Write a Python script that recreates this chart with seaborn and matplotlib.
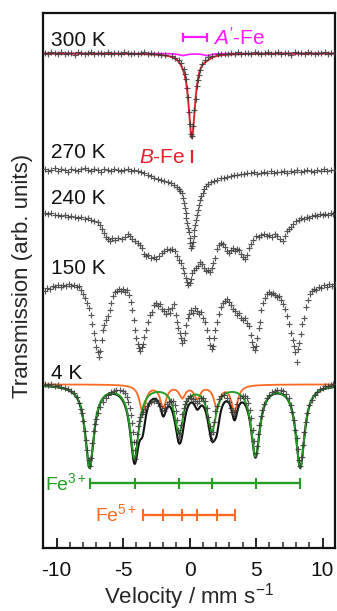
import numpy as np
import pandas as pd
import matplotlib
matplotlib.use("Agg")
import matplotlib.pyplot as plt
from matplotlib.ticker import MultipleLocator
import seaborn as sns

# ---------------- data ----------------
temps = ["300 K", "270 K", "240 K", "150 K", "4 K"]
xticks = [-10, -5, 0, 5, 10]
xticklabels = ["-10", "-5", "0", "5", "10"]

# absorption depth relative to each spectrum's baseline (arb. units, positive = dip)
v300 = [-10.9, -10.65, -10.4, -10.15, -9.9, -9.65, -9.4, -9.15, -8.9, -8.65, -8.4, -8.15,
        -7.9, -7.65, -7.4, -7.15, -6.9, -6.65, -6.4, -6.15, -5.9, -5.65, -5.4, -5.15,
        -4.9, -4.65, -4.4, -4.15, -3.9, -3.65, -3.4, -3.15, -2.9, -2.65, -2.4, -2.15,
        -1.83, -1.33, -1.08, -0.83, -0.63, -0.43, -0.35, -0.27, -0.19, -0.11, -0.03, 0.05,
        0.13, 0.21, 0.29, 0.37, 0.45, 0.53, 0.61, 0.69, 0.77, 0.97, 1.17, 1.42, 1.67, 2.17,
        2.4, 2.65, 2.9, 3.15, 3.4, 3.65, 3.9, 4.15, 4.4, 4.65, 4.9, 5.15, 5.4, 5.65, 5.9,
        6.15, 6.4, 6.65, 6.9, 7.15, 7.4, 7.65, 7.9, 8.15, 8.4, 8.65, 8.9, 9.15, 9.4, 9.65,
        9.9, 10.15, 10.4, 10.65, 10.85]
a300 = [-0.5, 1, -1, 0, 0.5, -1.5, 1, -0.5, 0, 1.5, -1, 0, 0.5, -0.5, -1, 1, 0, -0.5,
        0.5, -1, 1, 0, -0.5, 1, -1.5, 0, 0.5, -0.5, 1, 0, -1, 0.5, 0, 1, 0.5, 1.5,
        2, 3, 5, 7, 10, 16, 21, 26, 35, 44, 59, 71, 81, 83, 73, 57, 46, 33, 27, 22, 17,
        11, 7, 4, 3, 1,
        1, 0.5, 1, 0, 0.5, -1, 1, -0.5, 0, 0.5, -1, 0, 1, -0.5, -1, 0.5, 0, -1, 1, -0.5,
        0, 1.5, -1, 0, -0.5, 0.5, -1, 0, 1, -0.5, 0, -1, 0.5, 0, -0.5]

v270 = [-10.9, -10.65, -10.4, -10.15, -9.9, -9.65, -9.4, -9.15, -8.9, -8.65, -8.4, -8.15,
        -7.9, -7.65, -7.4, -7.15, -6.9, -6.65, -6.4, -6.15, -5.9, -5.65, -5.4, -5.15,
        -4.9, -4.65, -4.4, -4.15,
        -3.9, -3.65, -3.4, -3.15, -2.9, -2.65, -2.4, -2.15, -1.9, -1.65, -1.4, -1.15,
        -0.95, -0.8, -0.7, -0.6, -0.52, -0.45, -0.38, -0.3, -0.24, -0.18, -0.12, -0.06,
        0.0, 0.06, 0.12, 0.18, 0.24, 0.3, 0.37, 0.44, 0.5, 0.56, 0.62, 0.68, 0.75, 0.85,
        1.0, 1.12, 1.25, 1.4, 1.6, 1.85, 2.1, 2.35, 2.6, 2.85, 3.1, 3.35, 3.6, 3.85, 4.1,
        4.35, 4.6,
        4.85, 5.1, 5.35, 5.6, 5.85, 6.1, 6.35, 6.6, 6.85, 7.1, 7.35, 7.6, 7.85, 8.1, 8.35,
        8.6, 8.85, 9.1, 9.35, 9.6, 9.85, 10.1, 10.35, 10.6, 10.85]
a270 = [-1, 1, 0, -2, 1, -1, 0, 2, -1, 0, 1, -1, -2, 0, 1, -1, 0, 2, -1, 0, 1, -1, 0, 1,
        0, -1, 1, 0,
        1, 2, 3, 5, 6, 8, 9, 10, 11, 12, 13, 15, 17, 19, 21, 23, 28, 33, 38, 43, 48, 53,
        58, 62, 68, 73, 78, 76, 72, 66, 60, 55, 50, 45, 40, 35, 30, 26, 23, 19, 16, 14,
        12, 11, 10, 8, 8, 7, 6, 5, 5, 4, 4, 3, 3,
        2, 4, 3, 2, 3, 1, 3, 2, 2, 1, 3, 1, 2, 0, 2, 1, 0, 1, 2, 0, 1, -1, 1, 0, 0]

v240 = [-10.9, -10.65, -10.4, -10.15, -9.9, -9.65, -9.4, -9.15, -8.9, -8.65, -8.4, -8.15,
        -7.9, -7.65, -7.4, -7.15, -6.9, -6.75, -6.6, -6.45, -6.3, -6.15, -6.0, -5.85,
        -5.6, -5.35, -5.1, -4.85, -4.6, -4.45, -4.3, -4.1, -3.9, -3.7, -3.55, -3.4, -3.25,
        -3.1, -2.9, -2.7, -2.5, -2.3, -2.1, -1.9, -1.7, -1.5, -1.3, -1.1, -0.95, -0.8,
        -0.65, -0.5, -0.4, -0.3, -0.2, -0.1, 0.0, 0.1, 0.2, 0.3, 0.45, 0.6, 0.75, 0.9,
        1.05, 1.2, 1.35, 1.5, 1.65, 1.8, 1.95, 2.1, 2.25, 2.4, 2.55, 2.7, 2.85, 3.0, 3.15,
        3.3, 3.45, 3.6, 3.75, 3.9, 4.05, 4.2, 4.35, 4.5, 4.65, 4.8, 5.0, 5.2, 5.4, 5.6,
        5.8, 6.0, 6.2, 6.4, 6.6, 6.8, 7.0, 7.15, 7.3, 7.45, 7.6, 7.8, 8.0, 8.2, 8.4, 8.6,
        8.8, 9.0, 9.2, 9.4, 9.6, 9.8, 10.0, 10.2, 10.4, 10.6, 10.8]
a240 = [0, 1, 0, 2, 2, 3, 2, 4, 3, 4, 5, 4, 6, 5, 7, 8, 9,
        12, 16, 20, 24, 26, 28,
        25, 27, 25, 26, 24, 21, 23, 26, 28,
        30, 32, 35, 41, 43, 42, 45, 44, 46, 43, 40,
        38, 36, 37, 36, 38, 43, 47, 50, 55, 60, 65, 69, 72,
        70, 66, 60, 57, 55, 53, 49, 51, 55, 58, 57, 59, 55, 50, 45,
        36, 32, 30, 31, 34, 38, 40, 37, 35, 38, 36, 37, 41, 44, 46, 42, 35, 31, 27,
        23, 24, 22, 21, 23, 22, 24, 21, 23, 26, 28,
        23, 18, 16, 14, 11, 8, 7, 5, 6, 4, 5, 3, 2, 3, 1, 2, 1, 2, 0, 1]

v150 = [-10.9, -10.7, -10.5, -10.3, -10.1, -9.9, -9.7, -9.5, -9.3, -9.1, -8.9, -8.7, -8.5,
        -8.35, -8.2, -8.05, -7.9, -7.75, -7.6, -7.45, -7.3, -7.2, -7.1, -7.0, -6.9, -6.8,
        -6.7, -6.6, -6.5, -6.4, -6.3, -6.15, -6.0, -5.9, -5.75, -5.6, -5.45, -5.3, -5.15,
        -5.0, -4.85, -4.7, -4.55, -4.4, -4.3, -4.2, -4.1, -4.0, -3.9, -3.8, -3.7, -3.6,
        -3.5, -3.4, -3.3, -3.15, -3.0, -2.85, -2.7, -2.55, -2.4, -2.25, -2.1, -1.95, -1.8,
        -1.65, -1.5, -1.35, -1.2, -1.05, -0.95, -0.85, -0.75, -0.65, -0.55, -0.45, -0.35,
        -0.25, -0.15, -0.05, 0.1, 0.25, 0.4, 0.55, 0.7, 0.85, 1.0, 1.15, 1.3, 1.45, 1.55,
        1.65, 1.75, 1.85, 1.95, 2.05, 2.2, 2.35, 2.5, 2.65, 2.8, 2.95, 3.1, 3.25, 3.4,
        3.55, 3.7, 3.85, 4.0, 4.15, 4.3, 4.45, 4.6, 4.7, 4.8, 4.9, 5.0, 5.1, 5.2, 5.3,
        5.4, 5.5, 5.65, 5.8, 5.95, 6.1, 6.25, 6.4, 6.55, 6.7, 6.85, 7.0, 7.15, 7.3, 7.45,
        7.6, 7.75, 7.85, 7.95, 8.05, 8.15, 8.25, 8.35, 8.45, 8.6, 8.75, 8.9, 9.05, 9.2,
        9.35, 9.5, 9.7, 9.9, 10.1, 10.3, 10.5, 10.7, 10.9]
a150 = [4, 1, 2, -1, 0, -2, 0, -2, -1, -3,
        -1, -2, 0, -1, 3, 7, 11, 16, 21, 28,
        37, 46, 53, 60, 65, 70, 64, 53, 43, 38,
        33, 29, 23, 16, 9, 5, 4, 2, 4, 2,
        5, 3, 8, 15, 23, 33, 43, 51, 57, 61,
        64, 60, 57, 50, 43, 35, 28, 25, 18, 16,
        19, 17, 22, 24, 27, 22, 26, 21, 17, 28,
        35, 41, 46, 51, 56, 53, 46, 38, 31, 27,
        23, 26, 21, 24, 27, 25, 31, 35, 43, 51,
        58, 62, 59, 51, 43, 35, 27, 20, 16, 14,
        12, 15, 18, 22, 24, 28, 26, 31, 33, 31,
        36, 39, 48, 55, 60, 63, 59, 51, 41, 35,
        23, 16, 11, 7, 5, 7, 6, 8, 10, 9,
        13, 17, 22, 29, 37, 46, 53, 59, 65, 75,
        62, 56, 47, 37, 31, 20, 13, 7, 4, 2,
        3, 0, 1, -2, 0, -3, -1, -3]

v4 = [-10.9, -10.65, -10.4, -10.15, -9.9, -9.65, -9.4, -9.15, -8.9, -8.7, -8.5, -8.35,
      -8.2, -8.1, -8.0, -7.9, -7.8, -7.7, -7.6, -7.52, -7.42, -7.32, -7.2, -7.1, -7.0,
      -6.85, -6.7, -6.5, -6.3, -6.1, -5.9, -5.7, -5.5, -5.25, -5.0, -4.85, -4.7, -4.6,
      -4.5, -4.42, -4.35, -4.28, -4.2, -4.14, -4.07, -4.0, -3.92, -3.85, -3.78, -3.7,
      -3.6, -3.5, -3.35, -3.2, -3.05, -2.9, -2.7, -2.5, -2.35, -2.2, -2.05, -1.95, -1.85,
      -1.7, -1.55, -1.4, -1.25, -1.12, -1.0, -0.92, -0.85, -0.78, -0.7, -0.62, -0.54,
      -0.45, -0.35, -0.25, -0.12, 0.0, 0.12, 0.25, 0.4, 0.55, 0.7, 0.85, 1.0, 1.15, 1.3,
      1.42, 1.52, 1.6, 1.68, 1.76, 1.85, 1.95, 2.05, 2.2, 2.4, 2.6, 2.8, 2.95, 3.1, 3.22,
      3.35, 3.45, 3.6, 3.8, 4.0, 4.15, 4.3, 4.42, 4.55, 4.65, 4.75, 4.85, 4.96, 5.05,
      5.15, 5.25, 5.35, 5.45, 5.6, 5.8, 6.0, 6.2, 6.4, 6.6, 6.85, 7.05, 7.25, 7.45, 7.6,
      7.72, 7.85, 7.95, 8.05, 8.15, 8.25, 8.32, 8.42, 8.52, 8.62, 8.72, 8.85, 9.0, 9.2,
      9.4, 9.6, 9.8, 10.0, 10.2, 10.4, 10.6, 10.8]
a4 = [0, 1, 0, 2, 1, 3, 4, 5, 7, 9, 13, 19,
      25, 29, 37, 47, 56, 66, 76, 82, 74, 59, 47, 40, 35,
      29, 23, 18, 14, 11, 8, 7, 6, 6, 7, 9, 13, 18,
      24, 31, 39, 48, 58, 75, 66, 58, 50, 42, 37, 33,
      30, 28, 25, 22, 19, 18, 17, 16, 19, 22, 26, 27, 24,
      20, 18, 17, 17, 21, 27, 36, 46, 53, 49, 41, 30,
      24, 20, 17, 14, 12, 14, 15, 17, 19, 17, 14, 14, 17, 24,
      33, 42, 50, 56, 48, 38, 27, 22, 15, 12, 11, 14, 18, 24, 28,
      30, 26, 20, 14, 12, 12, 14, 19, 26, 34, 46, 57, 69, 62,
      50, 41, 32, 26, 20, 14, 11, 8, 7, 6, 6, 7, 10, 14, 21,
      28, 36, 46, 54, 65, 76, 82, 73, 61, 48, 38, 29, 21, 16,
      11, 8, 5, 4, 2, 2, 1, 0]

# fitted sub-spectra (line positions in mm/s, depths in arb. units, HWHM in mm/s)
bfe_pos, bfe_depth, bfe_hwhm = [0.17], [84], 0.30          # B-Fe singlet (300 K)
afe_pos, afe_depth, afe_hwhm = [-0.5, 1.3], [2, 2], 0.35     # A'-Fe doublet (300 K)
fe3_pos = [-7.52, -4.14, -0.80, 1.68, 4.96, 8.32]            # Fe3+ sextet (4 K)
fe3_depth = [82, 72, 47, 44, 70, 82]
fe3_hwhm = 0.40
fe5_pos = [-3.53, -1.98, -0.55, 0.58, 2.05, 3.38]            # Fe5+ sextet (4 K)
fe5_depth = [27, 22, 12, 13, 22, 27]
fe5_hwhm = 0.28

# ---------------- layout (vertical stacking of the spectra) ----------------
offset = {"300 K": 495, "270 K": 378, "240 K": 335, "150 K": 261, "4 K": 164}
label_pos = {"300 K": 508, "270 K": 396, "240 K": 350, "150 K": 280, "4 K": 175}

RED = "#e8202a"
MAGENTA = "#ff1aff"
GREEN = "#22a022"
ORANGE = "#ff6a22"
PTS = "#383838"

sns.set_style("white")
plt.rcParams["font.family"] = ["Liberation Sans", "DejaVu Sans"]
plt.rcParams["mathtext.fontset"] = "custom"
plt.rcParams["mathtext.rm"] = "Liberation Sans"
plt.rcParams["mathtext.it"] = "Liberation Sans:italic"
plt.rcParams["mathtext.bf"] = "Liberation Sans:bold"
plt.rcParams["mathtext.sf"] = "Liberation Sans"
plt.rcParams["axes.unicode_minus"] = False


def lorentz(v, pos, depth, hwhm):
    v = np.asarray(v, dtype=float)
    out = np.zeros_like(v)
    for p, d in zip(pos, depth):
        out += d / (1.0 + ((v - p) / hwhm) ** 2)
    return out


frames = []
for name, v, a in [("300 K", v300, a300), ("270 K", v270, a270), ("240 K", v240, a240),
                   ("150 K", v150, a150), ("4 K", v4, a4)]:
    assert len(v) == len(a), name
    frames.append(pd.DataFrame({"v": v, "y": offset[name] - np.asarray(a, float), "T": name}))
pts = pd.concat(frames, ignore_index=True)

fig = plt.figure(figsize=(3.37, 6.11), dpi=100)
ax = fig.add_axes([43.3 / 337, (611 - 548.3) / 611, (334.5 - 43.3) / 337, (548.3 - 12.5) / 611])

vgrid = np.linspace(-11.2, 11.2, 2241)
fit = pd.DataFrame({"v": vgrid})
fit["afe"] = offset["300 K"] - lorentz(vgrid, afe_pos, afe_depth, afe_hwhm)
fit["tot300"] = offset["300 K"] - lorentz(vgrid, afe_pos, afe_depth, afe_hwhm) \
    - lorentz(vgrid, bfe_pos, bfe_depth, bfe_hwhm)
fit["fe3"] = offset["4 K"] - lorentz(vgrid, fe3_pos, fe3_depth, fe3_hwhm)
fit["fe5"] = offset["4 K"] - lorentz(vgrid, fe5_pos, fe5_depth, fe5_hwhm)
fit["tot4"] = offset["4 K"] - lorentz(vgrid, fe3_pos, fe3_depth, fe3_hwhm) \
    - lorentz(vgrid, fe5_pos, fe5_depth, fe5_hwhm)

common = dict(data=fit, x="v", ax=ax, estimator=None, sort=False, legend=False)
sns.lineplot(y="afe", color=MAGENTA, lw=1.2, zorder=2, **common)
sns.lineplot(y="tot300", color=RED, lw=1.4, zorder=2, **common)
sns.lineplot(y="tot4", color="#111111", lw=1.5, zorder=2, **common)
sns.lineplot(y="fe5", color=ORANGE, lw=1.3, zorder=2.2, **common)
sns.lineplot(y="fe3", color=GREEN, lw=1.4, zorder=2.3, **common)

sns.scatterplot(data=pts, x="v", y="y", marker="+", color=PTS, s=24, linewidth=0.85,
                alpha=0.85, ax=ax, legend=False, zorder=3)

TXT = 15
# temperature labels
for name in temps:
    ax.text(-10.45, label_pos[name], name, fontsize=TXT, ha="left", va="center",
            color="#111111")

# A'-Fe marker
y_a = 511
ax.hlines(y_a, min(afe_pos), max(afe_pos), color=MAGENTA, lw=1.6)
ax.vlines(afe_pos, y_a - 4.5, y_a + 4.5, color=MAGENTA, lw=1.6)
ax.text(1.75, y_a, r"$\mathit{A}'$-Fe", color=MAGENTA, fontsize=TXT, ha="left", va="center")

# B-Fe marker
ax.vlines(bfe_pos, 385, 398, color=RED, lw=1.6)
ax.text(-0.35, 391, r"$\mathit{B}$-Fe", color=RED, fontsize=TXT, ha="right", va="center")

# Fe3+ / Fe5+ stick diagrams
y3, y5 = 65, 33
ax.hlines(y3, min(fe3_pos), max(fe3_pos), color=GREEN, lw=1.7)
ax.vlines(fe3_pos, y3 - 5.5, y3 + 5.5, color=GREEN, lw=1.5)
ax.text(-7.7, y3 - 7, r"Fe$^{3+}$", color=GREEN, fontsize=14, ha="right", va="baseline")
ax.hlines(y5, min(fe5_pos), max(fe5_pos), color=ORANGE, lw=1.7)
ax.vlines(fe5_pos, y5 - 6, y5 + 6, color=ORANGE, lw=1.5)
ax.text(-3.95, y5 - 6, r"Fe$^{5+}$", color=ORANGE, fontsize=14, ha="right", va="baseline")

ax.set_xlim(-11.0, 10.9)
ax.set_ylim(0, 536)
ax.set_xticks(xticks)
ax.set_xticklabels(xticklabels)
ax.xaxis.set_minor_locator(MultipleLocator(1))
ax.set_yticks([])
ax.tick_params(axis="x", which="major", direction="in", length=7, width=1.3,
               top=False, bottom=True, pad=9, labelsize=15, colors="#111111")
ax.tick_params(axis="x", which="minor", direction="in", length=4, width=1.1,
               top=False, bottom=True)
for s in ax.spines.values():
    s.set_visible(True)
    s.set_linewidth(1.6)
    s.set_color("#111111")

ax.set_xlabel(r"Velocity / mm s$^{-1}$", fontsize=16, labelpad=1)
ax.set_ylabel("Transmission (arb. units)", fontsize=16)
ax.yaxis.set_label_coords(-0.072, 0.509)
ax.yaxis.label.set_verticalalignment("center")

fig.savefig("out.png", dpi=100)
